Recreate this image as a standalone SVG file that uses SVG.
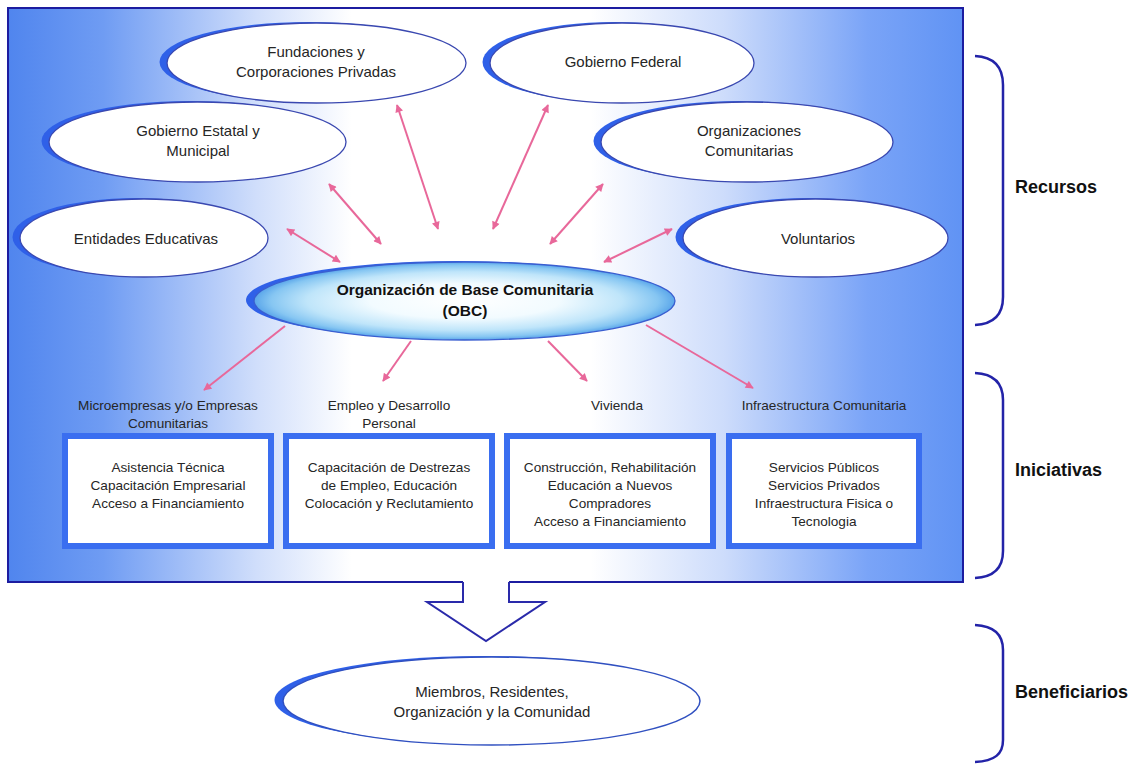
<svg xmlns="http://www.w3.org/2000/svg" width="1134" height="764" viewBox="0 0 1134 764">
<style>
  .t { font-family: "Liberation Sans", Arial, sans-serif; fill: #262626; text-anchor: middle; }
  .e15 { font-size: 15px; }
  .s13 { font-size: 13.6px; }
  .b { font-family: "Liberation Sans", Arial, sans-serif; font-weight: bold; fill: #111; }
  .side { font-size: 18px; }
  .obc { font-size: 15.5px; text-anchor: middle; }
  .cres { fill: #2f60e8; }
  .ell { fill: #ffffff; stroke: #3a48b0; stroke-width: 1.3; }
  .box { fill: #ffffff; stroke: #3a6ef0; stroke-width: 6; }
  .conn { stroke: #e8689a; stroke-width: 2; fill: none; }
  .brk { fill: none; stroke: #2323a8; stroke-width: 2.5; }
  .frame { fill: none; stroke: #1c1ca0; stroke-width: 2; }
</style>
<defs>
  <linearGradient id="bg" x1="0" y1="0" x2="1" y2="0">
    <stop offset="0" stop-color="#5085ee"/>
    <stop offset="0.1" stop-color="#6f9cf3"/>
    <stop offset="0.26" stop-color="#d0defb"/>
    <stop offset="0.36" stop-color="#ffffff"/>
    <stop offset="0.61" stop-color="#ffffff"/>
    <stop offset="0.75" stop-color="#cddcfb"/>
    <stop offset="0.9" stop-color="#7aa4f7"/>
    <stop offset="1" stop-color="#6093f4"/>
  </linearGradient>
  <radialGradient id="obcg" cx="0.5" cy="0.5" r="0.5">
    <stop offset="0" stop-color="#ffffff"/>
    <stop offset="0.45" stop-color="#f2fbff"/>
    <stop offset="0.75" stop-color="#bfe5fa"/>
    <stop offset="0.92" stop-color="#86c6f2"/>
    <stop offset="1" stop-color="#5aa6ea"/>
  </radialGradient>
  <marker id="ah" viewBox="0 0 10 10" refX="9" refY="5" markerWidth="10" markerHeight="8" markerUnits="userSpaceOnUse" orient="auto-start-reverse">
    <path d="M0,0 L10,5 L0,10 z" fill="#e8689a"/>
  </marker>
</defs>

<g id="main-panel">
  <rect x="8" y="8" width="955" height="574" fill="url(#bg)"/>
  <path class="frame" d="M463,582 H8 V8 H963 V582 H509"/>
</g>

<g id="flow-arrow">
  <path d="M463,582 V602 H427 L486,641 L545,602 H509 V582" fill="#ffffff" stroke="#2a2aaa" stroke-width="2" stroke-linejoin="miter"/>
</g>

<g id="node-fundaciones">
  <ellipse class="cres" cx="309" cy="62" rx="149.5" ry="40"/>
  <ellipse class="ell" cx="316.5" cy="63" rx="149.5" ry="40"/>
  <text class="t e15" x="316" y="57">Fundaciones y</text>
  <text class="t e15" x="316" y="77">Corporaciones Privadas</text>
</g>
<g id="node-gobierno-federal">
  <ellipse class="cres" cx="614.5" cy="62" rx="132" ry="40"/>
  <ellipse class="ell" cx="622" cy="63" rx="132" ry="40"/>
  <text class="t e15" x="623" y="67">Gobierno Federal</text>
</g>
<g id="node-gobierno-estatal">
  <ellipse class="cres" cx="190" cy="141" rx="148.5" ry="40"/>
  <ellipse class="ell" cx="197.5" cy="142" rx="148.5" ry="40"/>
  <text class="t e15" x="198" y="136">Gobierno Estatal y</text>
  <text class="t e15" x="198" y="156">Municipal</text>
</g>
<g id="node-organizaciones">
  <ellipse class="cres" cx="739.5" cy="141" rx="146" ry="40"/>
  <ellipse class="ell" cx="747" cy="142" rx="146" ry="40"/>
  <text class="t e15" x="749" y="136">Organizaciones</text>
  <text class="t e15" x="749" y="156">Comunitarias</text>
</g>
<g id="node-entidades">
  <ellipse class="cres" cx="136.5" cy="237" rx="124" ry="39"/>
  <ellipse class="ell" cx="144" cy="238" rx="124" ry="39"/>
  <text class="t e15" x="146" y="244">Entidades Educativas</text>
</g>
<g id="node-voluntarios">
  <ellipse class="cres" cx="808" cy="237" rx="132.5" ry="39"/>
  <ellipse class="ell" cx="815.5" cy="238" rx="132.5" ry="39"/>
  <text class="t e15" x="818" y="244">Voluntarios</text>
</g>
<g id="node-obc">
  <ellipse class="cres" cx="456.5" cy="300" rx="210.5" ry="39"/>
  <ellipse cx="464.5" cy="301" rx="210.5" ry="39" fill="url(#obcg)" stroke="#3a5ed0" stroke-width="1.3"/>
  <text class="b obc" x="465" y="295">Organización de Base Comunitaria</text>
  <text class="b obc" x="465" y="316">(OBC)</text>
</g>

<g id="connectors">
  <line class="conn" x1="287" y1="229" x2="340" y2="262" marker-start="url(#ah)" marker-end="url(#ah)"/>
  <line class="conn" x1="329" y1="184" x2="381" y2="244" marker-start="url(#ah)" marker-end="url(#ah)"/>
  <line class="conn" x1="397" y1="105" x2="438" y2="229" marker-start="url(#ah)" marker-end="url(#ah)"/>
  <line class="conn" x1="548" y1="105" x2="493" y2="229" marker-start="url(#ah)" marker-end="url(#ah)"/>
  <line class="conn" x1="603" y1="184" x2="550" y2="244" marker-start="url(#ah)" marker-end="url(#ah)"/>
  <line class="conn" x1="672" y1="229" x2="604" y2="262" marker-start="url(#ah)" marker-end="url(#ah)"/>
  <line class="conn" x1="285" y1="326" x2="204" y2="390" marker-end="url(#ah)"/>
  <line class="conn" x1="411" y1="341" x2="383" y2="381" marker-end="url(#ah)"/>
  <line class="conn" x1="548" y1="341" x2="587" y2="381" marker-end="url(#ah)"/>
  <line class="conn" x1="646" y1="325" x2="753" y2="388" marker-end="url(#ah)"/>
</g>

<g id="node-microempresas">
  <text class="t s13" x="168" y="410">Microempresas y/o Empresas</text>
  <text class="t s13" x="168" y="428">Comunitarias</text>
  <rect class="box" x="65" y="436" width="206" height="110"/>
  <text class="t s13" x="168" y="472">Asistencia Técnica</text>
  <text class="t s13" x="168" y="490">Capacitación Empresarial</text>
  <text class="t s13" x="168" y="508">Acceso a Financiamiento</text>
</g>
<g id="node-empleo">
  <text class="t s13" x="389" y="410">Empleo y Desarrollo</text>
  <text class="t s13" x="389" y="428">Personal</text>
  <rect class="box" x="286" y="436" width="206" height="110"/>
  <text class="t s13" x="389" y="472">Capacitación de Destrezas</text>
  <text class="t s13" x="389" y="490">de Empleo, Educación</text>
  <text class="t s13" x="389" y="508">Colocación y Reclutamiento</text>
</g>
<g id="node-vivienda">
  <text class="t s13" x="617" y="410">Vivienda</text>
  <rect class="box" x="507" y="436" width="206" height="110"/>
  <text class="t s13" x="610" y="472">Construcción, Rehabilitación</text>
  <text class="t s13" x="610" y="490">Educación a Nuevos</text>
  <text class="t s13" x="610" y="508">Compradores</text>
  <text class="t s13" x="610" y="526">Acceso a Financiamiento</text>
</g>
<g id="node-infraestructura">
  <text class="t s13" x="824" y="410">Infraestructura Comunitaria</text>
  <rect class="box" x="729" y="436" width="190" height="110"/>
  <text class="t s13" x="824" y="472">Servicios Públicos</text>
  <text class="t s13" x="824" y="490">Servicios Privados</text>
  <text class="t s13" x="824" y="508">Infraestructura Fisica o</text>
  <text class="t s13" x="824" y="526">Tecnologia</text>
</g>

<g id="node-beneficiarios">
  <ellipse class="cres" cx="483" cy="700" rx="208.5" ry="44"/>
  <ellipse cx="491.5" cy="701" rx="208.5" ry="44" fill="#ffffff" stroke="#3050c0" stroke-width="1.5"/>
  <text class="t e15" x="492" y="697">Miembros, Residentes,</text>
  <text class="t e15" x="492" y="717">Organización y la Comunidad</text>
</g>

<g id="brackets">
  <path class="brk" d="M975,56 C995,57 1003,68 1003,85 V297 C1003,313 995,324 975,325"/>
  <path class="brk" d="M975,373 C995,374 1003,384 1003,400 V551 C1003,567 995,577 975,578"/>
  <path class="brk" d="M975,625 C995,626 1003,636 1003,650 V740 C1003,754 995,761 975,762"/>
  <text class="b side" x="1015" y="193">Recursos</text>
  <text class="b side" x="1015" y="476">Iniciativas</text>
  <text class="b side" x="1015" y="698">Beneficiarios</text>
</g>
</svg>
